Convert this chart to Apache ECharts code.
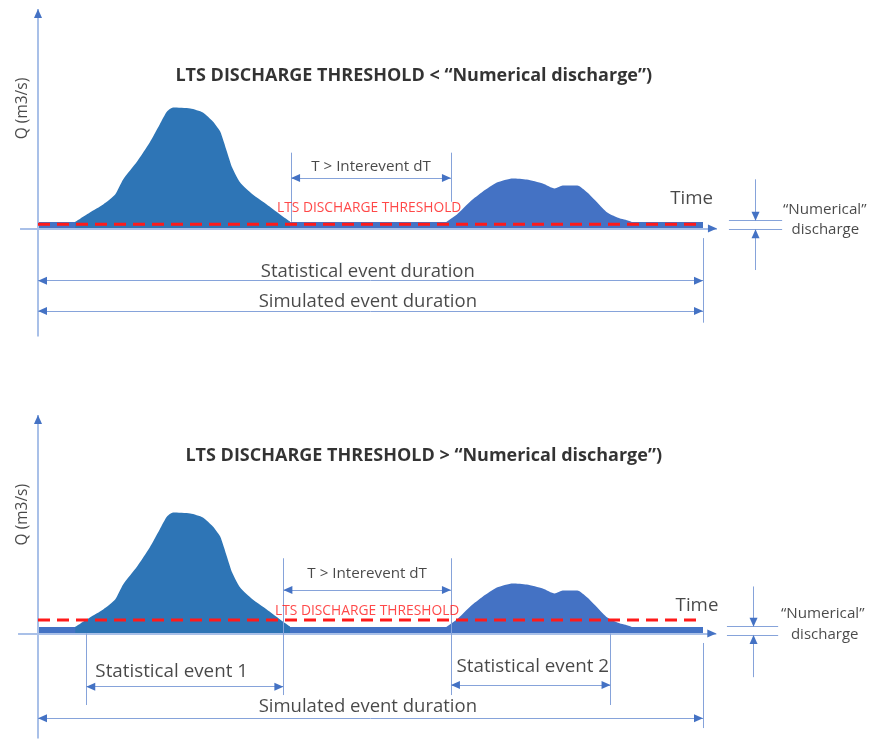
<!DOCTYPE html>
<html><head><meta charset="utf-8">
<script src="https://cdn.jsdelivr.net/npm/echarts@6/dist/echarts.min.js"></script>
<style>html,body{margin:0;padding:0;background:#fff}#c{width:873px;height:739px}</style>
</head><body><div id="c"></div>
<script>
// ---------------- data ----------------
const hydro1Time = [5.6, 7.8, 9.8, 11.6, 12.8, 14.9, 16.8, 18.3, 19.4, 20.3, 22.9, 24.8, 26.3, 27.4, 28.4, 29.2, 30.4, 32.3, 34.4, 36.4, 37.9];
const hydro1Q    = [0.55, 1.33, 2.0, 2.83, 4.08, 5.58, 7.17, 8.67, 9.75, 10.08, 10.0, 9.67, 8.92, 8.08, 6.42, 5.08, 3.83, 2.83, 2.0, 1.17, 0.58];
const hydro2Time = [61.4, 63.0, 65.0, 66.9, 69.0, 71.4, 73.5, 75.9, 77.7, 78.9, 81.1, 82.6, 84.1, 85.6, 87.1, 88.7, 89.3];
const hydro2Q    = [0.55, 1.17, 2.25, 3.08, 3.83, 4.17, 4.08, 3.75, 3.33, 3.58, 3.58, 3.0, 2.17, 1.33, 0.92, 0.67, 0.55];
const simulationTime = [0, 100];
const numericalDischarge = 0.55;
const ltsThreshold = [0.36, 1.12];                 // top: < numerical, bottom: > numerical
const statisticalEvents = [[7.26, 36.9], [62.1, 86.1]];
const intereventTop = [38.05, 62.1];
const panelTitles = ['LTS DISCHARGE THRESHOLD < \u201CNumerical discharge\u201D)',
                     'LTS DISCHARGE THRESHOLD > \u201CNumerical discharge\u201D)'];

// ---------------- layout / style ----------------
const FONT = '"Open Sans", Lato, sans-serif';
const LIGHT = '#A9C0E8', LINE = '#86A3DA', DARK = '#4472C4', HYD1 = '#2E75B6', RED = '#FF1A1A';
const PXX = 6.65, PXY = 12;               // pixels per data unit (for arrow-head geometry only)
const X_MIN = -5, X_MAX = 125, Y_MAX = 19;
const yMins = [-10, -8.75];
const gridTops = [0.5, 405.5];

// annotation geometry (data units of each panel)
const ann = [
  { title:[56.5,12.7], q:[-2.3,10.0], time:[98.3,2.52], thr:[49.8,1.68],
    yAxis:[-9.0,18.3], xAxis:[-2.7,102.1],
    inter:{x:intereventTop, top:6.32, bot:[0.57,2.23], arrowY:4.21, textY:5.15},
    num:{x:107.9, xr:[103.9,111.9], lines:[0.65,-0.07], top:4.1, bot:-3.46, t1:[118.3,1.58], t2:[118.4,-0.08]},
    dur:[{y:-4.35, ty:-3.6, text:'Statistical event duration'},{y:-6.875, ty:-6.1, text:'Simulated event duration'}],
    right:[-0.8,-7.85] },
  { title:[58.0,14.83], q:[-2.3,9.9], time:[99.1,2.29], thr:[49.5,1.9],
    yAxis:[-8.75,18.2], xAxis:[-3.0,102.0],
    inter:{x:[statisticalEvents[0][1], statisticalEvents[1][0]], top:6.27, bot:[-5.13,-5.13], arrowY:3.63, textY:4.96},
    num:{x:107.6, xr:[103.6,111.3], lines:[0.57,-0.12], top:3.92, bot:-3.64, t1:[118.0,1.68], t2:[118.3,-0.12]},
    events:[{x:statisticalEvents[0], lineBot:[-5.96,-5.13], y:-4.43, t:[20.1,-3.18], text:'Statistical event 1', outer:0},
            {x:statisticalEvents[1], lineBot:[-5.13,-5.96], y:-4.29, t:[74.4,-2.77], text:'Statistical event 2', outer:1}],
    dur:[{y:-7.07, ty:-6.1, text:'Simulated event duration'}],
    right:[-0.79,-7.88] }
];

function seg(a, b, color, width) {
  return [{coord:a, symbol:'none', lineStyle:{color:color, width:width, type:'solid'}}, {coord:b, symbol:'none'}];
}
function tip(p, dir) {
  const d = {r:[1,0], l:[-1,0], u:[0,1], d:[0,-1]}[dir];
  const h = 9;
  const cx = p[0] - d[0]*(h/2)/PXX, cy = p[1] - d[1]*(h/2)/PXY;
  const sx = cx - d[0]*1/PXX, sy = cy - d[1]*1/PXY;
  return [{coord:[sx,sy], symbol:'none', lineStyle:{color:DARK, width:1, type:'solid'}},
          {coord:[cx,cy], symbol:'triangle', symbolSize:[8,9]}];
}
function txt(pos, text, style) {
  return { value: pos, label: Object.assign({show:true, position:'inside', formatter:text,
           fontFamily:FONT, color:'#1a1a1a', fontSize:18.8}, style || {}) };
}

const grids = [], xAxes = [], yAxes = [], series = [];
ann.forEach(function (a, i) {
  grids.push({left:4.75, width:864.5, top:gridTops[i], height:(Y_MAX - yMins[i]) * PXY});
  xAxes.push({type:'value', gridIndex:i, min:X_MIN, max:X_MAX, show:false});
  yAxes.push({type:'value', gridIndex:i, min:yMins[i], max:Y_MAX, show:false});
  const base = {xAxisIndex:i, yAxisIndex:i, silent:true, animation:false};

  const lines = [];
  lines.push(seg([0,a.yAxis[0]],[0,a.yAxis[1]], LIGHT, 2));
  lines.push(seg([a.xAxis[0],0],[a.xAxis[1],0], LIGHT, 2));
  lines.push(seg([a.inter.x[0],a.inter.top],[a.inter.x[0],a.inter.bot[0]], LINE, 1));
  lines.push(seg([a.inter.x[1],a.inter.top],[a.inter.x[1],a.inter.bot[1]], LINE, 1));
  lines.push(seg([a.inter.x[0],a.inter.arrowY],[a.inter.x[1],a.inter.arrowY], LINE, 1));
  lines.push(seg([a.num.xr[0],a.num.lines[0]],[a.num.xr[1],a.num.lines[0]], LINE, 1));
  lines.push(seg([a.num.xr[0],a.num.lines[1]],[a.num.xr[1],a.num.lines[1]], LINE, 1));
  lines.push(seg([a.num.x,a.num.top],[a.num.x,a.num.lines[0]], LINE, 1));
  lines.push(seg([a.num.x,a.num.bot],[a.num.x,a.num.lines[1]], LINE, 1));
  lines.push(seg([simulationTime[1],a.right[0]],[simulationTime[1],a.right[1]], LINE, 1));
  a.dur.forEach(function (d) { lines.push(seg([simulationTime[0],d.y],[simulationTime[1],d.y], LINE, 1)); });
  if (a.events) a.events.forEach(function (e) {
    lines.push(seg([e.x[e.outer],0],[e.x[e.outer],e.lineBot[e.outer]], LINE, 1));
    lines.push(seg([e.x[0],e.y],[e.x[1],e.y], LINE, 1));
  });

  const tips = [];
  tips.push(tip([0,a.yAxis[1]],'u'));
  tips.push(tip([a.xAxis[1],0],'r'));
  tips.push(tip([a.inter.x[0],a.inter.arrowY],'l'));
  tips.push(tip([a.inter.x[1],a.inter.arrowY],'r'));
  tips.push(tip([a.num.x,a.num.lines[0]],'d'));
  tips.push(tip([a.num.x,a.num.lines[1]],'u'));
  a.dur.forEach(function (d) {
    tips.push(tip([simulationTime[0],d.y],'l'));
    tips.push(tip([simulationTime[1],d.y],'r'));
  });
  if (a.events) a.events.forEach(function (e) {
    tips.push(tip([e.x[0],e.y],'l'));
    tips.push(tip([e.x[1],e.y],'r'));
  });

  series.push(Object.assign({type:'line', data:[], z:1,
    markLine:{silent:true, animation:false, symbol:'none', label:{show:false}, emphasis:{disabled:true}, data:lines}}, base));
  series.push(Object.assign({type:'line', z:2, symbol:'none', lineStyle:{width:0},
    areaStyle:{color:DARK, opacity:1},
    data: simulationTime.map(function (t) { return [t, numericalDischarge]; })}, base));
  series.push(Object.assign({type:'line', z:3, symbol:'none', smooth:0.2, lineStyle:{width:0},
    areaStyle:{color:HYD1, opacity:1},
    data: hydro1Time.map(function (t, k) { return [t, hydro1Q[k]]; })}, base));
  series.push(Object.assign({type:'line', z:3, symbol:'none', smooth:0.2, lineStyle:{width:0},
    areaStyle:{color:DARK, opacity:1},
    data: hydro2Time.map(function (t, k) { return [t, hydro2Q[k]]; })}, base));
  series.push(Object.assign({type:'line', z:5, symbol:'none',
    lineStyle:{color:RED, width:3, type:[12,7]},
    data: simulationTime.map(function (t) { return [t, ltsThreshold[i]]; })}, base));
  series.push(Object.assign({type:'line', data:[], z:6,
    markLine:{silent:true, animation:false, symbol:'none', symbolSize:[8,9], label:{show:false}, emphasis:{disabled:true}, data:tips}}, base));

  const texts = [
    txt(a.title, panelTitles[i], {fontWeight:'bold', fontSize:18, color:'#000'}),
    txt(a.q, 'Q (m3/s)', {rotate:90, fontSize:15.5}),
    txt(a.time, 'Time', {fontSize:18.7}),
    txt(a.thr, 'LTS DISCHARGE THRESHOLD', {fontSize:13.8, color:RED}),
    txt([ (a.inter.x[0]+a.inter.x[1])/2, a.inter.textY ], 'T > Interevent dT', {fontSize:15.2}),
    txt(a.num.t1, '\u201CNumerical\u201D', {fontSize:15.2}),
    txt(a.num.t2, 'discharge', {fontSize:15})
  ];
  a.dur.forEach(function (d) { texts.push(txt([(simulationTime[0]+simulationTime[1])/2 - 0.4, d.ty], d.text, {fontSize:18.5})); });
  if (a.events) a.events.forEach(function (e) { texts.push(txt(e.t, e.text, {fontSize:18.8})); });
  series.push(Object.assign({type:'scatter', z:7, symbolSize:1, itemStyle:{color:'rgba(0,0,0,0)'}, data:texts}, base));
});

const chart = echarts.init(document.getElementById('c'), null, {renderer:'canvas'});
chart.setOption({animation:false, backgroundColor:'#fff', grid:grids, xAxis:xAxes, yAxis:yAxes, series:series});
</script></body></html>
